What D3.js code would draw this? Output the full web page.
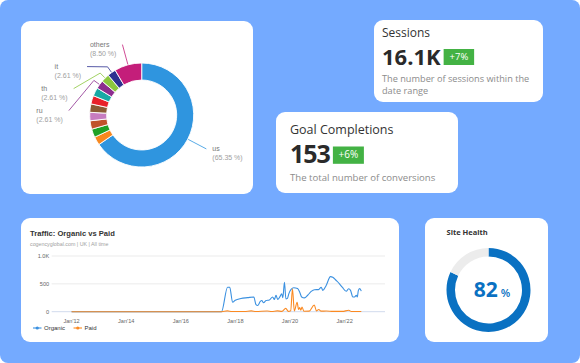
<!DOCTYPE html>
<html>
<head>
<meta charset="utf-8">
<script src="https://cdn.jsdelivr.net/npm/d3@7"></script>
<style>
  body { margin: 0; background: #fff; }
  svg { display: block; }
</style>
</head>
<body>
<svg id="board" width="580" height="363"></svg>
<script>
// ---- data ----
const countries = ["us", "in", "gb", "ca", "au", "de", "fr", "sg", "ru", "th", "it", "others"];
const shares = [65.35, 2.61, 2.61, 2.61, 2.61, 2.61, 2.61, 2.61, 2.61, 2.61, 2.61, 8.50];
const sliceColors = ["#2f95df", "#f7881f", "#1fa125", "#c0532b", "#c77cc0", "#8b5b35",
    "#e8212a", "#17a9a5", "#8b2d8e", "#8cc63e", "#2d3190", "#c41e7a"];
const labelledCountries = ["us", "ru", "th", "it", "others"];

const sessionsValue = "16.1K";
const sessionsChange = "+7%";
const goalsValue = "153";
const goalsChange = "+6%";
const siteHealth = 82;

const organicDates = ["2012-01-01", "2017-06-29", "2017-09-18", "2017-10-17", "2017-11-24",
    "2017-12-30", "2018-03-16", "2018-06-13", "2018-09-04", "2018-10-03", "2018-10-25",
    "2018-11-30", "2018-12-20", "2019-01-13", "2019-02-14", "2019-03-30", "2019-05-14",
    "2019-06-06", "2019-06-28", "2019-07-20", "2019-08-18", "2019-09-12", "2019-09-27",
    "2019-10-19", "2019-11-07", "2019-11-28", "2019-12-17", "2020-01-16", "2020-02-20",
    "2020-04-12", "2020-05-10", "2020-06-05", "2020-07-12", "2020-08-25", "2020-10-11",
    "2020-11-24", "2021-01-17", "2021-02-22", "2021-03-15", "2021-04-29", "2021-06-25",
    "2021-07-26", "2021-09-10", "2021-10-24", "2021-11-30", "2022-01-23", "2022-02-23",
    "2022-03-21", "2022-04-21", "2022-05-14", "2022-06-06", "2022-06-19", "2022-07-04",
    "2022-07-22", "2022-08-12"];
const organicValues = [0, 0, 440, 440, 170,
    205, 237, 252, 265, 125, 110,
    185, 200, 160, 200, 210, 265,
    220, 295, 220, 265, 320, 250,
    530, 230, 240, 325, 400, 430,
    415, 350, 265, 248, 295, 365,
    395, 396, 440, 383, 470, 630,
    618, 560, 500, 440, 366, 413,
    383, 265, 265, 295, 265, 383,
    415, 370];

const paidDates = ["2012-01-01", "2017-07-01", "2017-09-15", "2017-11-15", "2018-05-01",
    "2018-08-01", "2018-10-01", "2019-03-01", "2019-05-01", "2019-07-15", "2019-09-15",
    "2019-11-05", "2019-12-10", "2020-01-10", "2020-02-03", "2020-02-28", "2020-04-05",
    "2020-04-25", "2020-05-10", "2020-05-25", "2020-06-10", "2020-07-05", "2020-09-15",
    "2020-11-20", "2020-12-20", "2021-01-20", "2021-02-20", "2021-05-01", "2021-08-01",
    "2021-12-01", "2022-02-25", "2022-04-01", "2022-08-12"];
const paidValues = [0, 0, 15, 3, 3,
    15, 3, 12, 3, 15, 5,
    60, 5, 15, 410, 15, 170,
    40, 75, 25, 85, 8, 10,
    120, 15, 40, 10, 12, 5,
    5, 25, 3, 3];

const yTicks = [0, 500, 1000];
const yTickLabels = ["0", "500", "1.0K"];
const xTickYears = [2012, 2014, 2016, 2018, 2020, 2022];
const seriesNames = ["Organic", "Paid"];
const seriesColors = ["#3a90e0", "#fb8a22"];

// ---- drawing ----
const svg = d3.select("#board");
const cardFont = "'Open Sans', sans-serif";
const chartFont = "'Liberation Sans', Arial, sans-serif";

svg.append("rect")
    .attr("width", 580).attr("height", 363).attr("rx", 8)
    .attr("fill", "#74aaff");

function card(x, y, w, h) {
    const g = svg.append("g").attr("transform", `translate(${x},${y})`);
    g.append("rect").attr("width", w).attr("height", h).attr("rx", 9).attr("fill", "#fff");
    return g;
}

// donut card
const donutCard = card(21, 21, 232, 173);
const donut = donutCard.append("g").attr("transform", "translate(120.7,94)");
const rows = countries.map((c, i) => ({ country: c, share: shares[i], color: sliceColors[i] }));
const pie = d3.pie().sort(null).value(d => d.share);
const slices = pie(rows);
const outerR = 52, innerR = 35, labelR = 73;
const arc = d3.arc().innerRadius(innerR).outerRadius(outerR);

donut.selectAll("path.slice")
    .data(slices)
    .join("path")
    .attr("class", "slice")
    .attr("d", arc)
    .attr("fill", d => d.data.color)
    .attr("stroke", "#fff")
    .attr("stroke-width", 0.9);

function polar(r, a) { return [r * Math.sin(a), -r * Math.cos(a)]; }

const labelled = slices
    .filter(d => labelledCountries.includes(d.data.country))
    .map(d => ({ d, a: (d.startAngle + d.endAngle) / 2 }));

// spread the labels on each side so they keep 22px apart
["left", "right"].forEach(side => {
    const group = labelled
        .filter(l => side === "left" ? l.a > Math.PI : l.a <= Math.PI)
        .sort((p, q) => side === "left" ? q.a - p.a : p.a - q.a);
    let prevY = -Infinity;
    group.forEach(l => {
        let y = -labelR * Math.cos(l.a);
        y = Math.max(y, prevY + 22);
        prevY = y;
        const x = Math.sqrt(Math.max(0, labelR * labelR - y * y));
        l.end = [side === "left" ? -x : x, y];
        l.side = side;
    });
});

labelled.forEach(l => {
    const pts = [polar(outerR + 0.5, l.a), polar(outerR + 7, l.a), l.end];
    donut.append("path")
        .attr("d", d3.line()(pts))
        .attr("fill", "none")
        .attr("stroke", l.d.data.color)
        .attr("stroke-width", 0.8);

    const t = donut.append("g").attr("font-family", chartFont).attr("font-size", 7);
    const name = t.append("text").attr("y", l.end[1] + 2.5).attr("fill", "#777").text(l.d.data.country);
    const pct = t.append("text").attr("y", l.end[1] + 11.5).attr("fill", "#a0a0a0")
        .text(`(${l.d.data.share.toFixed(2)} %)`);
    const w = Math.max(name.node().getComputedTextLength(), pct.node().getComputedTextLength());
    const x = l.side === "left" ? l.end[0] - 6 - w : l.end[0] + 6;
    name.attr("x", x);
    pct.attr("x", x);
});

// KPI cards
function kpi(g, opts) {
    g.append("text").attr("x", opts.pad).attr("y", opts.titleY)
        .attr("font-family", cardFont).attr("font-size", opts.titleSize).attr("fill", "#333")
        .text(opts.title);
    const big = g.append("text").attr("x", opts.pad).attr("y", opts.bigY)
        .attr("font-family", cardFont).attr("font-size", opts.bigSize).attr("font-weight", 700)
        .attr("letter-spacing", opts.spacing).attr("fill", "#2a2a2a")
        .text(opts.value);
    const bw = big.node().getComputedTextLength();
    const bx = opts.pad + bw + 3;
    g.append("rect").attr("x", bx).attr("y", opts.bigY - opts.badgeH + 0.5)
        .attr("width", opts.badgeW).attr("height", opts.badgeH).attr("fill", "#43b244");
    g.append("text").attr("x", bx + opts.badgeW / 2).attr("y", opts.bigY - opts.badgeH / 2 + 3.7)
        .attr("text-anchor", "middle").attr("font-family", cardFont)
        .attr("font-size", opts.badgeSize).attr("fill", "#fff").text(opts.change);
    opts.desc.forEach((line, i) => {
        g.append("text").attr("x", opts.pad).attr("y", opts.descY + i * 12)
            .attr("font-family", cardFont).attr("font-size", opts.descSize).attr("fill", "#8c8c8c")
            .text(line);
    });
}

kpi(card(374, 20, 169, 82), {
    pad: 8, title: "Sessions", titleY: 16.5, titleSize: 12,
    value: sessionsValue, bigY: 44.5, bigSize: 22, spacing: 0,
    change: sessionsChange, badgeW: 30.5, badgeH: 16, badgeSize: 9.5,
    desc: ["The number of sessions within the", "date range"], descY: 62, descSize: 9.2
});

kpi(card(276, 112, 182, 81), {
    pad: 14, title: "Goal Completions", titleY: 22, titleSize: 12.5,
    value: goalsValue, bigY: 51.3, bigSize: 25, spacing: -1,
    change: goalsChange, badgeW: 31, badgeH: 17.3, badgeSize: 10,
    desc: ["The total number of conversions"], descY: 69, descSize: 9.6
});

// traffic card
const traffic = card(21, 218, 378, 124);
traffic.append("text").attr("x", 9).attr("y", 17.5)
    .attr("font-family", chartFont).attr("font-size", 7.6).attr("font-weight", 700)
    .attr("fill", "#333").text("Traffic: Organic vs Paid");
traffic.append("text").attr("x", 9).attr("y", 28)
    .attr("font-family", chartFont).attr("font-size", 5.3)
    .attr("fill", "#a0a0a0").text("cogencyglobal.com | UK | All time");

const parse = d3.timeParse("%Y-%m-%d");
const organic = organicDates.map((d, i) => ({ date: parse(d), value: organicValues[i] }));
const paid = paidDates.map((d, i) => ({ date: parse(d), value: paidValues[i] }));

const x = d3.scaleTime()
    .domain([parse("2011-04-10"), parse("2023-06-25")])
    .range([30.7, 364]);
const y = d3.scaleLinear().domain([0, 1000]).range([93.7, 38]);

const plot = traffic.append("g");
plot.selectAll("line.grid")
    .data(yTicks.filter(v => v > 0))
    .join("line")
    .attr("x1", x.range()[0]).attr("x2", x.range()[1])
    .attr("y1", d => y(d)).attr("y2", d => y(d))
    .attr("stroke", "#e6e6e6").attr("stroke-width", 0.8);
plot.append("line")
    .attr("x1", x.range()[0]).attr("x2", x.range()[1])
    .attr("y1", y(0)).attr("y2", y(0))
    .attr("stroke", "#ccd6eb").attr("stroke-width", 0.9);

plot.selectAll("text.ytick")
    .data(yTicks)
    .join("text")
    .attr("x", x.range()[0] - 2.5)
    .attr("y", d => y(d) + 2)
    .attr("text-anchor", "end")
    .attr("font-family", chartFont).attr("font-size", 5.6).attr("fill", "#666")
    .text((d, i) => yTickLabels[i]);

const fmtTick = d3.timeFormat("%b'%y");
plot.selectAll("text.xtick")
    .data(xTickYears.map(yr => new Date(yr, 0, 1)))
    .join("text")
    .attr("x", d => x(d))
    .attr("y", 104.5)
    .attr("text-anchor", "middle")
    .attr("font-family", chartFont).attr("font-size", 5.6).attr("fill", "#666")
    .text(d => fmtTick(d));

const line = d3.line()
    .x(d => x(d.date))
    .y(d => y(d.value))
    .curve(d3.curveMonotoneX);

[organic, paid].forEach((series, i) => {
    plot.append("path")
        .datum(series)
        .attr("d", line)
        .attr("fill", "none")
        .attr("stroke", seriesColors[i])
        .attr("stroke-width", 1.1)
        .attr("stroke-linejoin", "round");
});

// legend
const legend = traffic.append("g").attr("transform", "translate(12,110)");
let lx = 0;
seriesNames.forEach((name, i) => {
    const item = legend.append("g").attr("transform", `translate(${lx},0)`);
    item.append("line").attr("x1", 0).attr("x2", 8.5).attr("y1", 0).attr("y2", 0)
        .attr("stroke", seriesColors[i]).attr("stroke-width", 1.1);
    item.append("circle").attr("cx", 4.25).attr("cy", 0).attr("r", 1.6).attr("fill", seriesColors[i]);
    const t = item.append("text").attr("x", 11).attr("y", 2.1)
        .attr("font-family", chartFont).attr("font-size", 6).attr("fill", "#333").text(name);
    lx += 11 + t.node().getComputedTextLength() + 8.5;
});

// site health card
const health = card(425, 218, 123, 124);
health.append("text").attr("x", 21.5).attr("y", 17)
    .attr("font-family", cardFont).attr("font-size", 7.5).attr("font-weight", 700)
    .attr("fill", "#333").text("Site Health");

const gauge = health.append("g").attr("transform", "translate(63.5,72)");
const gaugeArc = d3.arc().innerRadius(33.5).outerRadius(42);
const gaugeParts = d3.pie().sort(null)([siteHealth, 100 - siteHealth]);
gauge.selectAll("path")
    .data(gaugeParts)
    .join("path")
    .attr("d", gaugeArc)
    .attr("fill", (d, i) => i === 0 ? "#0a71c2" : "#ececec");

const pctText = gauge.append("text")
    .attr("x", 3.5).attr("y", 6.5)
    .attr("text-anchor", "middle")
    .attr("font-family", cardFont).attr("fill", "#0a71c2");
pctText.append("tspan").attr("font-size", 21).attr("font-weight", 700).text(siteHealth);
pctText.append("tspan").attr("dx", 3).attr("font-size", 11).attr("font-weight", 600).text("%");
</script>
</body>
</html>
